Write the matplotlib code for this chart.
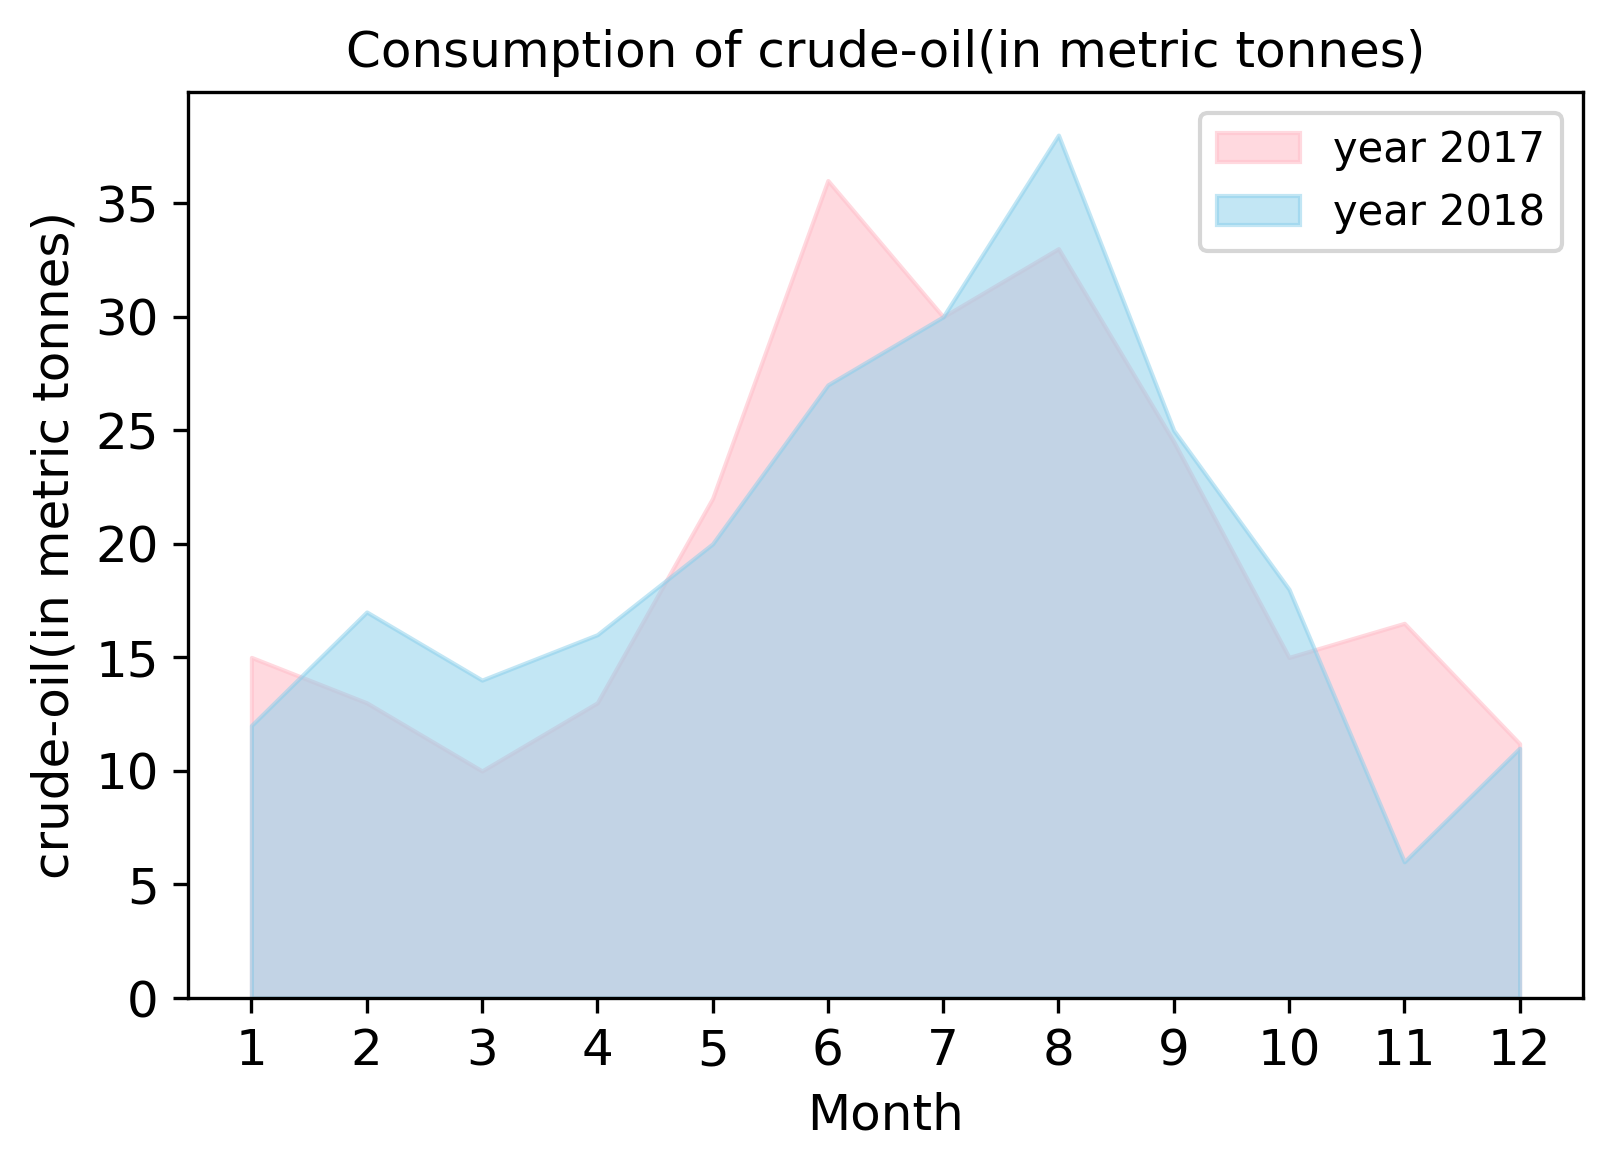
import matplotlib
matplotlib.use("Agg")
import matplotlib.pyplot as plt

months = [1, 2, 3, 4, 5, 6, 7, 8, 9, 10, 11, 12]
oil_2017 = [15, 13, 10, 13, 22, 36, 30, 33, 24.5, 15, 16.5, 11.2]
oil_2018 = [12, 17, 14, 16, 20, 27, 30, 38, 25, 18, 6, 11]

fig = plt.figure(figsize=(1612 / 300, 1170 / 300), dpi=300)
ax = fig.add_axes([188 / 1612, 172 / 1170, 1395 / 1612, 906 / 1170])

ax.fill_between(months, oil_2017, color="pink", alpha=0.6, label="year 2017")
ax.fill_between(months, oil_2018, color="skyblue", alpha=0.5, label="year 2018")

ax.set_ylim(bottom=0)
ax.set_xticks(months)
ax.tick_params(labelsize=12)
ax.set_title("Consumption of crude-oil(in metric tonnes)", fontsize=12)
ax.set_xlabel("Month", fontsize=12)
ax.set_ylabel("crude-oil(in metric tonnes)", fontsize=12)
ax.legend(fontsize=10, loc="upper right")

fig.savefig("out.png", dpi=300)
